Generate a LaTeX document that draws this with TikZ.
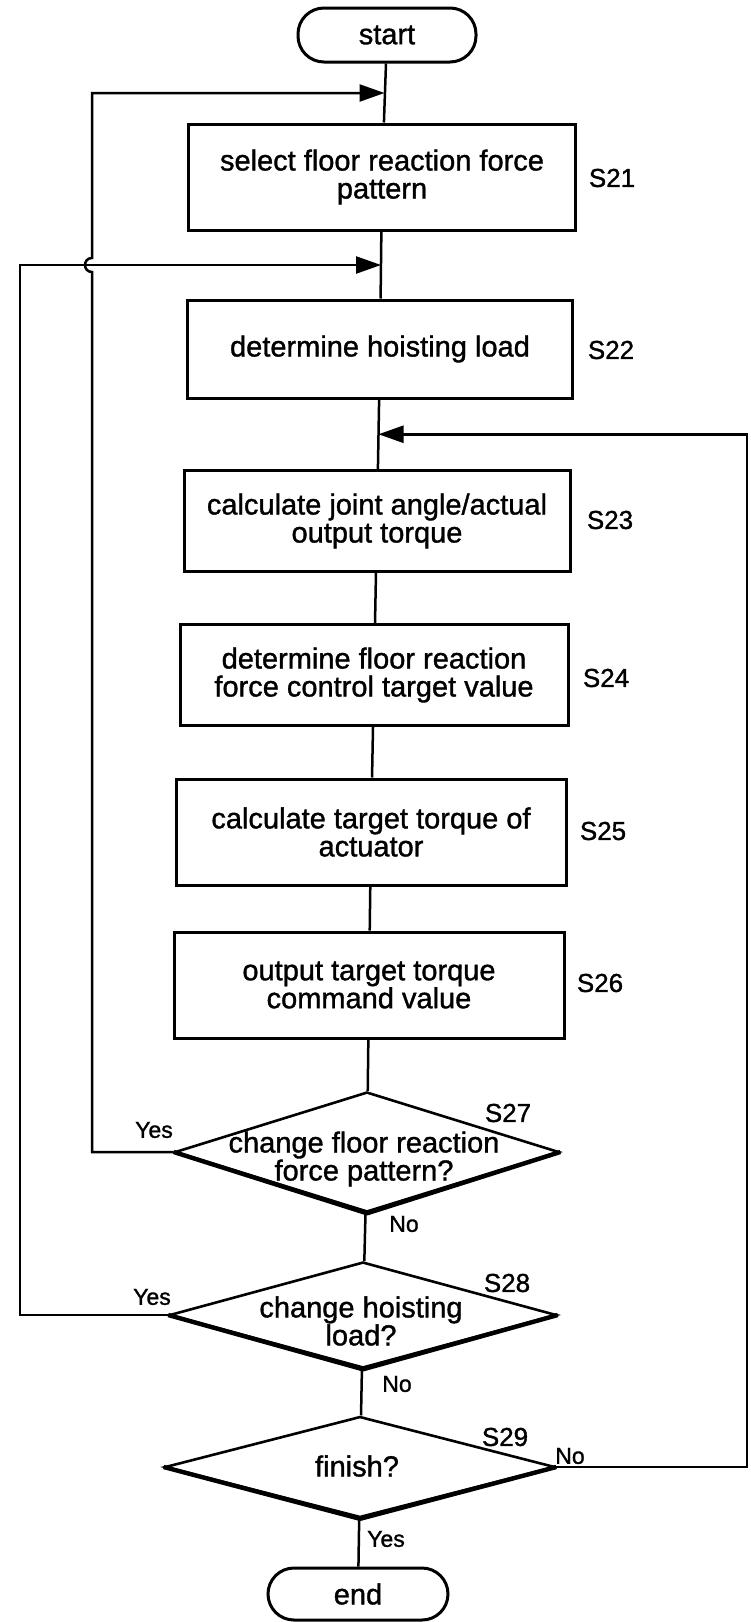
\documentclass[tikz,border=0pt]{standalone}
\usepackage{fontspec}
\setmainfont{Liberation Sans}[FakeBold=1.2]
\usetikzlibrary{shapes.geometric,arrows.meta,calc}
\begin{document}
\begin{tikzpicture}[x=1pt,y=-1pt,
  box/.style={draw,line width=3pt,rectangle,inner sep=0pt,align=center,font=\fontsize{29}{28}\selectfont},
  term/.style={draw,line width=3pt,rectangle,rounded corners=26pt,minimum width=178pt,minimum height=54pt,inner sep=0pt,font=\fontsize{29}{28}\selectfont},
  dia/.style={draw,line width=2.6pt,diamond,inner sep=0pt},
  dtext/.style={align=center,font=\fontsize{29}{28}\selectfont,inner sep=0pt},
  slabel/.style={font=\fontsize{26}{26}\selectfont,inner sep=0pt},
  yn/.style={font=\fontsize{23}{23}\selectfont,inner sep=0pt},
  line/.style={line width=2.5pt},
  thick lower/.style={line width=4.4pt,line join=round},
  arr/.style={line width=2.5pt,-{Triangle[length=25pt,width=17pt]}},
]
\useasboundingbox (0,0) rectangle (750,1622);

% terminals and process boxes
\node[term] (start) at (387,35) {start};
\node[box,minimum width=387pt,minimum height=106pt] (s21) at (382,177) {select floor reaction force\\pattern};
\node[box,minimum width=385pt,minimum height=98pt] (s22) at (380,349) {determine hoisting load};
\node[box,minimum width=386pt,minimum height=101pt] (s23) at (377,521) {calculate joint angle/actual\\output torque};
\node[box,minimum width=388pt,minimum height=101pt] (s24) at (374,675) {determine floor reaction\\force control target value};
\node[box,minimum width=390pt,minimum height=106pt] (s25) at (371,832) {calculate target torque of\\actuator};
\node[box,minimum width=390pt,minimum height=106pt] (s26) at (369,985) {output target torque\\command value};

% decisions
\node[dia,minimum width=384pt,minimum height=120pt] (s27) at (367,1152) {};
\node[dia,minimum width=387pt,minimum height=106pt] (s28) at (363,1315) {};
\node[dia,minimum width=390pt,minimum height=101pt] (s29) at (360,1467) {};
\draw[thick lower] (s27.west) -- (s27.south) -- (s27.east);
\draw[thick lower] (s28.west) -- (s28.south) -- (s28.east);
\draw[thick lower] (s29.west) -- (s29.south) -- (s29.east);
\node[dtext] (t27) at (364,1159) {change floor reaction\\force pattern?};
\node[dtext] (t28) at (361,1321) {change hoisting\\load?};
\node[dtext] (t29) at (357,1466) {finish?};

\node[term,minimum width=180pt,minimum height=52pt] (end) at (358,1594) {end};

% step labels
\node[slabel] (l21) at (612,178) {S21};
\node[slabel] (l22) at (611,350) {S22};
\node[slabel] (l23) at (610,520) {S23};
\node[slabel] (l24) at (606,678) {S24};
\node[slabel] (l25) at (603,831) {S25};
\node[slabel] (l26) at (600,983) {S26};
\node[slabel] (l27) at (508,1113) {S27};
\node[slabel] (l28) at (507,1283) {S28};
\node[slabel] (l29) at (505,1437) {S29};

% branch labels
\node[yn] (y27) at (154,1130) {Yes};
\node[yn] (n27) at (404,1224) {No};
\node[yn] (y28) at (152,1297) {Yes};
\node[yn] (n28) at (397,1384) {No};
\node[yn] (n29) at (570,1456) {No};
\node[yn] (y29) at (386,1539) {Yes};

% main flow
\draw[line] (start) -- (s21);
\draw[line] (s21) -- (s22);
\draw[line] (s22) -- (s23);
\draw[line] (s23) -- (s24);
\draw[line] (s24) -- (s25);
\draw[line] (s25) -- (s26);
\draw[line] (s26) -- (s27);
\draw[line] (s27) -- (s28);
\draw[line] (s28) -- (s29);
\draw[line] (s29) -- (end);

% junctions
\coordinate (j1) at ($(start.south)!0.5!(s21.north)$);
\coordinate (j2) at ($(s21.south)!0.5!(s22.north)$);
\coordinate (j3) at ($(s22.south)!0.5!(s23.north)$);

% loops
\draw[arr] (s27.west) -- (92,1152) -- (92,272) .. controls (82.7,272) and (82.7,258) .. (92,258) |- (j1);
\draw[arr] (s28.west) -- (20,1315) |- (j2);
\draw[arr] (s29.east) -- (747,1467) |- (j3);
\end{tikzpicture}
\end{document}
